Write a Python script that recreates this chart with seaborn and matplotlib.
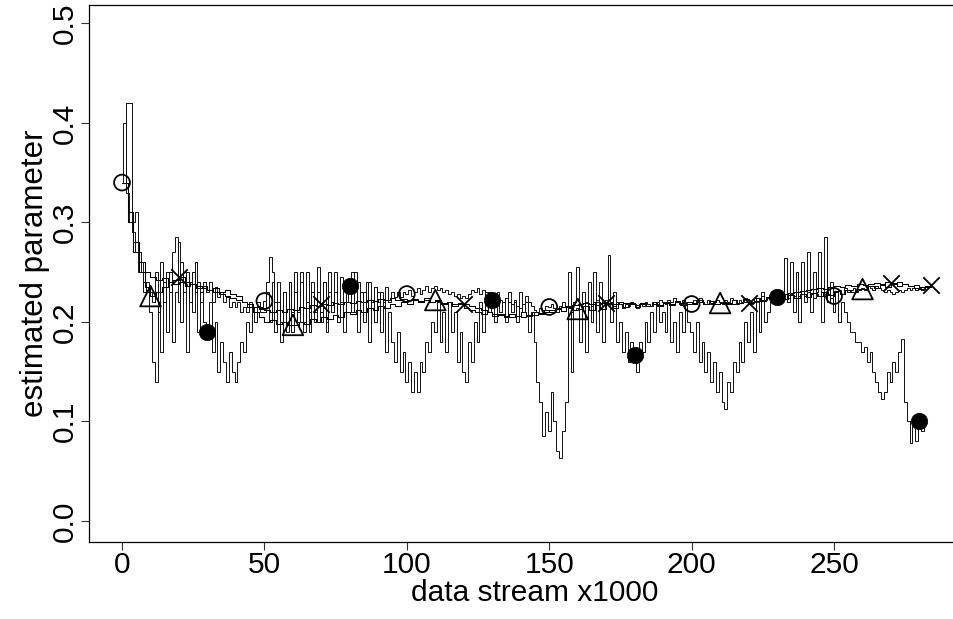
import numpy as np
import pandas as pd
import matplotlib
matplotlib.use("Agg")
import matplotlib.pyplot as plt
import seaborn as sns

# ---------------- data ----------------
# series with filled-circle markers: x = 0..282 (step 1)
series_filled = [
    0.34, 0.40, 0.33, 0.30, 0.29, 0.27, 0.25, 0.26, 0.23, 0.24,
    0.21, 0.16, 0.14, 0.22, 0.17, 0.24, 0.19, 0.25, 0.18, 0.23,
    0.28, 0.20, 0.25, 0.17, 0.24, 0.21, 0.26, 0.19, 0.23, 0.20,
    0.19, 0.22, 0.17, 0.20, 0.15, 0.18, 0.16, 0.14, 0.17, 0.15,
    0.14, 0.16, 0.18, 0.17, 0.20, 0.19, 0.21, 0.20, 0.22, 0.21,
    0.21, 0.23, 0.20, 0.24, 0.19, 0.22, 0.18, 0.23, 0.20, 0.24,
    0.19, 0.23, 0.21, 0.25, 0.20, 0.22, 0.19, 0.24, 0.21, 0.23,
    0.20, 0.24, 0.19, 0.23, 0.21, 0.25, 0.20, 0.22, 0.19, 0.24,
    0.236, 0.21, 0.25, 0.19, 0.23, 0.20, 0.24, 0.18, 0.22, 0.20,
    0.23, 0.19, 0.22, 0.17, 0.21, 0.18, 0.16, 0.19, 0.15, 0.17,
    0.14, 0.16, 0.13, 0.15, 0.13, 0.16, 0.15, 0.18, 0.17, 0.20,
    0.19, 0.22, 0.18, 0.21, 0.17, 0.22, 0.19, 0.21, 0.16, 0.19,
    0.15, 0.14, 0.18, 0.16, 0.20, 0.18, 0.22, 0.19, 0.23, 0.21,
    0.222, 0.20, 0.23, 0.21, 0.22, 0.20, 0.23, 0.21, 0.22, 0.20,
    0.23, 0.21, 0.22, 0.19, 0.21, 0.18, 0.14, 0.12, 0.085, 0.11,
    0.09, 0.13, 0.10, 0.07, 0.063, 0.09, 0.12, 0.25, 0.15, 0.22,
    0.255, 0.18, 0.23, 0.17, 0.24, 0.20, 0.25, 0.19, 0.24, 0.18,
    0.22, 0.267, 0.20, 0.23, 0.18, 0.20, 0.17, 0.19, 0.16, 0.18,
    0.167, 0.15, 0.18, 0.17, 0.20, 0.18, 0.21, 0.19, 0.22, 0.20,
    0.21, 0.19, 0.22, 0.18, 0.20, 0.17, 0.21, 0.19, 0.22, 0.20,
    0.19, 0.17, 0.20, 0.16, 0.18, 0.15, 0.17, 0.14, 0.16, 0.13,
    0.15, 0.12, 0.113, 0.14, 0.13, 0.16, 0.15, 0.18, 0.16, 0.20,
    0.18, 0.21, 0.17, 0.22, 0.19, 0.23, 0.20, 0.21, 0.22, 0.23,
    0.225, 0.22, 0.23, 0.264, 0.22, 0.26, 0.21, 0.25, 0.20, 0.26,
    0.22, 0.27, 0.21, 0.25, 0.23, 0.27, 0.20, 0.285, 0.22, 0.24,
    0.21, 0.23, 0.20, 0.22, 0.21, 0.20, 0.19, 0.19, 0.18, 0.18,
    0.17, 0.175, 0.16, 0.17, 0.15, 0.14, 0.13, 0.123, 0.13, 0.15,
    0.14, 0.16, 0.15, 0.17, 0.183, 0.12, 0.10, 0.078, 0.10, 0.08,
    0.10, 0.09, 0.105,
]

# series with open-circle markers: x = 0..282 (step 1)
series_open = [
    0.34, 0.34, 0.42, 0.42, 0.30, 0.31, 0.27, 0.25, 0.24, 0.23,
    0.23, 0.22, 0.25, 0.21, 0.26, 0.22, 0.25, 0.23, 0.27, 0.285,
    0.22, 0.26, 0.23, 0.25, 0.22, 0.25, 0.23, 0.24, 0.22, 0.24,
    0.23, 0.24, 0.22, 0.235, 0.225, 0.23, 0.22, 0.225, 0.215, 0.22,
    0.215, 0.22, 0.21, 0.215, 0.21, 0.22, 0.21, 0.215, 0.22, 0.215,
    0.221, 0.24, 0.265, 0.25, 0.22, 0.24, 0.20, 0.23, 0.19, 0.24,
    0.21, 0.25, 0.20, 0.24, 0.19, 0.25, 0.21, 0.23, 0.20, 0.255,
    0.21, 0.24, 0.20, 0.25, 0.22, 0.23, 0.20, 0.245, 0.21, 0.24,
    0.22, 0.25, 0.21, 0.24, 0.22, 0.23, 0.21, 0.24, 0.22, 0.235,
    0.22, 0.23, 0.215, 0.235, 0.22, 0.23, 0.225, 0.23, 0.225, 0.23,
    0.228, 0.232, 0.226, 0.23, 0.234, 0.228, 0.232, 0.236, 0.23, 0.234,
    0.236, 0.232, 0.234, 0.23, 0.232, 0.228, 0.23, 0.226, 0.228, 0.224,
    0.226, 0.224, 0.228, 0.232, 0.23, 0.234, 0.228, 0.232, 0.226, 0.23,
    0.228, 0.224, 0.226, 0.222, 0.22, 0.224, 0.22, 0.218, 0.222, 0.216,
    0.214, 0.218, 0.226, 0.22, 0.216, 0.212, 0.21, 0.214, 0.212, 0.216,
    0.215, 0.218, 0.214, 0.21, 0.216, 0.22, 0.216, 0.214, 0.21, 0.212,
    0.214, 0.218, 0.216, 0.22, 0.218, 0.216, 0.22, 0.222, 0.218, 0.22,
    0.222, 0.218, 0.22, 0.216, 0.22, 0.218, 0.214, 0.218, 0.216, 0.22,
    0.218, 0.214, 0.218, 0.216, 0.22, 0.218, 0.216, 0.22, 0.218, 0.222,
    0.22, 0.218, 0.222, 0.22, 0.224, 0.22, 0.218, 0.222, 0.22, 0.218,
    0.218, 0.222, 0.22, 0.224, 0.22, 0.218, 0.222, 0.218, 0.22, 0.222,
    0.22, 0.218, 0.222, 0.22, 0.224, 0.222, 0.218, 0.222, 0.22, 0.224,
    0.222, 0.218, 0.22, 0.224, 0.222, 0.226, 0.222, 0.224, 0.228, 0.224,
    0.226, 0.222, 0.226, 0.228, 0.224, 0.228, 0.226, 0.23, 0.226, 0.228,
    0.226, 0.23, 0.228, 0.224, 0.228, 0.226, 0.23, 0.226, 0.228, 0.224,
    0.226, 0.23, 0.232, 0.228, 0.234, 0.23, 0.232, 0.234, 0.23, 0.232,
    0.234, 0.232, 0.236, 0.234, 0.232, 0.236, 0.234, 0.232, 0.23, 0.232,
    0.23, 0.228, 0.23, 0.232, 0.23, 0.232, 0.234, 0.232, 0.234, 0.232,
    0.234, 0.232, 0.234,
]

# series with triangle markers: x = 0..284 (step 2)
series_triangle = [
    0.34, 0.30, 0.27, 0.25, 0.235, 0.226, 0.23, 0.235, 0.24, 0.238,
    0.24, 0.236, 0.238, 0.234, 0.236, 0.232, 0.234, 0.23, 0.232, 0.228,
    0.226, 0.22, 0.215, 0.21, 0.205, 0.2, 0.202, 0.198, 0.2, 0.197,
    0.197, 0.2, 0.198, 0.203, 0.2, 0.205, 0.203, 0.207, 0.205, 0.21,
    0.208, 0.212, 0.21, 0.214, 0.212, 0.216, 0.214, 0.218, 0.216, 0.22,
    0.218, 0.222, 0.22, 0.224, 0.22, 0.222, 0.218, 0.22, 0.216, 0.218,
    0.214, 0.212, 0.21, 0.208, 0.21, 0.206, 0.208, 0.205, 0.208, 0.206,
    0.21, 0.207, 0.21, 0.208, 0.212, 0.21, 0.214, 0.211, 0.215, 0.212,
    0.213, 0.216, 0.212, 0.217, 0.213, 0.218, 0.214, 0.218, 0.215, 0.219,
    0.215, 0.219, 0.216, 0.22, 0.216, 0.22, 0.217, 0.221, 0.217, 0.22,
    0.218, 0.222, 0.218, 0.221, 0.218, 0.219, 0.218, 0.222, 0.219, 0.223,
    0.22, 0.224, 0.221, 0.225, 0.222, 0.226, 0.223, 0.227, 0.224, 0.228,
    0.225, 0.229, 0.226, 0.23, 0.227, 0.231, 0.228, 0.232, 0.23, 0.233,
    0.233, 0.236, 0.234, 0.237, 0.235, 0.238, 0.236, 0.238, 0.236, 0.237,
    0.235, 0.236, 0.235,
]

# series with cross markers: x = 0..284 (step 2)
series_cross = [
    0.34, 0.31, 0.28, 0.26, 0.25, 0.245, 0.242, 0.244, 0.24, 0.242,
    0.245, 0.24, 0.238, 0.236, 0.234, 0.232, 0.23, 0.228, 0.226, 0.224,
    0.222, 0.22, 0.218, 0.215, 0.213, 0.212, 0.21, 0.212, 0.21, 0.213,
    0.212, 0.215, 0.214, 0.217, 0.216, 0.218, 0.217, 0.219, 0.218, 0.22,
    0.219, 0.221, 0.22, 0.222, 0.221, 0.223, 0.222, 0.224, 0.222, 0.223,
    0.222, 0.223, 0.221, 0.222, 0.22, 0.221, 0.219, 0.22, 0.218, 0.219,
    0.218, 0.216, 0.214, 0.212, 0.21, 0.208, 0.207, 0.206, 0.205, 0.206,
    0.205, 0.206, 0.207, 0.209, 0.21, 0.212, 0.213, 0.215, 0.216, 0.217,
    0.218, 0.219, 0.218, 0.22, 0.219, 0.219, 0.218, 0.22, 0.219, 0.218,
    0.217, 0.218, 0.216, 0.218, 0.217, 0.219, 0.218, 0.22, 0.219, 0.218,
    0.219, 0.22, 0.218, 0.219, 0.218, 0.22, 0.219, 0.218, 0.219, 0.22,
    0.219, 0.221, 0.222, 0.224, 0.225, 0.226, 0.228, 0.229, 0.23, 0.231,
    0.232, 0.233, 0.234, 0.233, 0.235, 0.236, 0.235, 0.237, 0.236, 0.238,
    0.237, 0.238, 0.239, 0.238, 0.24, 0.239, 0.24, 0.238, 0.236, 0.234,
    0.233, 0.235, 0.237,
]

x_step1 = np.arange(len(series_filled))
x_step2 = np.arange(len(series_triangle)) * 2

x_ticks = [0, 50, 100, 150, 200, 250]
y_ticks = [0.0, 0.1, 0.2, 0.3, 0.4, 0.5]
y_tick_labels = ["0.0", "0.1", "0.2", "0.3", "0.4", "0.5"]
x_label = "data stream x1000"
y_label = "estimated parameter"

# ---------------- figure ----------------
sns.set_theme(style="white")
plt.rcParams["font.family"] = ["Liberation Sans", "DejaVu Sans"]

W, H = 954, 619
fig = plt.figure(figsize=(W / 100, H / 100), dpi=100)
left_px, right_px, top_px, bottom_px = 89, 981, 5, 541.7
ax = fig.add_axes([left_px / W, (H - bottom_px) / H,
                   (right_px - left_px) / W, (bottom_px - top_px) / H])

df_filled = pd.DataFrame({"x": x_step1, "y": series_filled})
df_open = pd.DataFrame({"x": x_step1[:len(series_open)], "y": series_open})
df_tri = pd.DataFrame({"x": x_step2, "y": series_triangle})
df_cross = pd.DataFrame({"x": x_step2[:len(series_cross)], "y": series_cross})

smooth_kw = dict(color="black", linewidth=0.75, estimator=None, sort=False,
                 drawstyle="steps-post", ax=ax)
noisy_kw = dict(color="#111111", linewidth=0.7, estimator=None, sort=False,
                drawstyle="steps-mid", ax=ax)
sns.lineplot(data=df_tri, x="x", y="y", **smooth_kw)
sns.lineplot(data=df_cross, x="x", y="y", **smooth_kw)
sns.lineplot(data=df_open, x="x", y="y", **noisy_kw)
sns.lineplot(data=df_filled, x="x", y="y", **noisy_kw)

# marker positions: every 50 units, each series with its own offset
mk_open = df_open[df_open["x"] % 50 == 0]
mk_filled = df_filled[df_filled["x"] % 50 == 30]
mk_tri = df_tri[df_tri["x"] % 50 == 10]
mk_cross = pd.concat([df_cross[df_cross["x"] % 50 == 20], df_cross.iloc[[-1]]])

sns.scatterplot(data=mk_open, x="x", y="y", marker="o", s=130,
                facecolors="none", edgecolor="black", linewidth=1.3, ax=ax, zorder=5)
sns.scatterplot(data=mk_filled, x="x", y="y", marker="o", s=140,
                color="black", edgecolor="black", linewidth=0.5, ax=ax, zorder=5)
sns.scatterplot(data=mk_tri, x="x", y="y", marker="^", s=220,
                facecolors="none", edgecolor="black", linewidth=1.3, ax=ax, zorder=5)
sns.scatterplot(data=mk_cross, x="x", y="y", marker="x", s=140,
                color="black", linewidth=1.3, ax=ax, zorder=5)

FS = 21.5
ax.set_xlim(-11.59, 301.6)
ax.set_ylim(-0.0208, 0.5184)
ax.set_xticks(x_ticks)
ax.set_xticklabels([str(t) for t in x_ticks])
ax.set_yticks(y_ticks)
ax.set_yticklabels(y_tick_labels, rotation=90, va="center")
ax.tick_params(axis="both", direction="out", length=5.5, width=0.8,
               color="#333333", labelsize=FS, pad=1.5, labelcolor="black")
ax.tick_params(axis="both", which="both", bottom=True, left=True)

for sp in ax.spines.values():
    sp.set_color("black")
    sp.set_linewidth(0.9)
ax.spines["right"].set_visible(False)

ax.set_xlabel(x_label, fontsize=FS, labelpad=0, color="black")
ax.set_ylabel(y_label, fontsize=22.5, labelpad=1, color="black")

fig.savefig("out.png", dpi=100)
